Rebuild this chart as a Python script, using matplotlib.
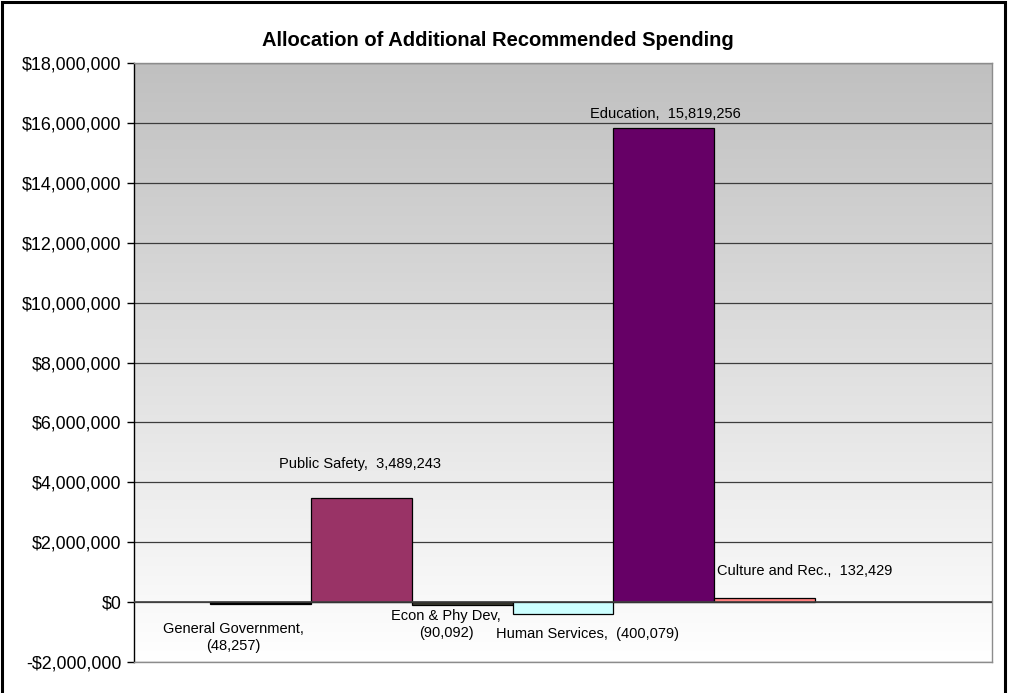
import matplotlib
matplotlib.use("Agg")
import matplotlib.pyplot as plt
import matplotlib.patches as mpatches
import numpy as np
from matplotlib.ticker import FuncFormatter, MultipleLocator

plt.rcParams['font.family'] = ['Liberation Sans', 'DejaVu Sans']

# Spending allocation by function
categories = ["General Government", "Public Safety", "Econ & Phy Dev",
              "Human Services", "Education", "Culture and Rec."]
amounts = [-48257, 3489243, -90092, -400079, 15819256, 132429]
colors = ["#000000", "#993366", "#3a3a30", "#CCFFFF", "#660066", "#FF8080"]

# label text layout: (line-break after name?, dx px, dy px, vertical alignment)
label_layout = [
    (True, -27, -34, "center"),
    (False, -1, 34, "center"),
    (True, -16, -20, "center"),
    (False, 25, -20, "center"),
    (False, 1, 14, "center"),
    (False, 40, 27, "center"),
]

W, H = 1011, 693
fig = plt.figure(figsize=(W / 100, H / 100), dpi=100)
fig.patch.set_facecolor("white")

left, right, top, bottom = 134, 992, 63, 662
ax = fig.add_axes([left / W, 1 - bottom / H, (right - left) / W, (bottom - top) / H])

# vertical gray-to-white gradient for the plot area
grad = np.linspace(192, 255, 256)[:, None] / 255.0
grad_img = np.dstack([grad, grad, grad])
ax.imshow(grad_img, extent=[0, 1, 0, 1], transform=ax.transAxes,
          aspect="auto", zorder=0, origin="upper", interpolation="bilinear")

x = np.arange(len(categories))
ax.bar(x, amounts, width=1.0, color=colors, edgecolor="black",
       linewidth=0.9, zorder=3)

ax.set_xlim(-1.25, 7.25)
ax.set_ylim(-2_000_000, 18_000_000)
ax.yaxis.set_major_locator(MultipleLocator(2_000_000))


def money(v, pos):
    v = int(round(v))
    if v < 0:
        return "-${:,}".format(-v)
    return "${:,}".format(v)


ax.yaxis.set_major_formatter(FuncFormatter(money))
ax.tick_params(axis="y", direction="out", length=5, width=1, color="black",
               labelsize=12.9, pad=4)
ax.set_xticks([])

ax.grid(axis="y", color="#3c3c3c", linewidth=0.9, zorder=1)
ax.set_axisbelow(True)
ax.axhline(0, color="#404040", linewidth=1.2, zorder=4)

for side in ("top", "right", "bottom"):
    ax.spines[side].set_color("#8c8c8c")
    ax.spines[side].set_linewidth(1.0)
ax.spines["left"].set_color("black")
ax.spines["left"].set_linewidth(1.0)

for xi, name, val, (brk, dx, dy, va) in zip(x, categories, amounts, label_layout):
    num = "({:,})".format(-val) if val < 0 else "{:,}".format(val)
    text = name + (",\n" if brk else ",  ") + num
    ax.annotate(text, xy=(xi, val), xytext=(dx, dy), textcoords="offset pixels",
                ha="center", va=va, fontsize=10.5, linespacing=1.25,
                zorder=5, annotation_clip=False)

fig.text(498 / W, 1 - 41 / H, "Allocation of Additional Recommended Spending",
         ha="center", va="center", fontsize=14.5, fontweight="bold")

# chart frame
frame = mpatches.Rectangle((2 / W, -0.05), (1005 - 2) / W, 1.05 - 2 / H,
                           transform=fig.transFigure, fill=False,
                           edgecolor="black", linewidth=2.2, clip_on=False)
fig.patches.append(frame)

fig.savefig("out.png", dpi=100)
